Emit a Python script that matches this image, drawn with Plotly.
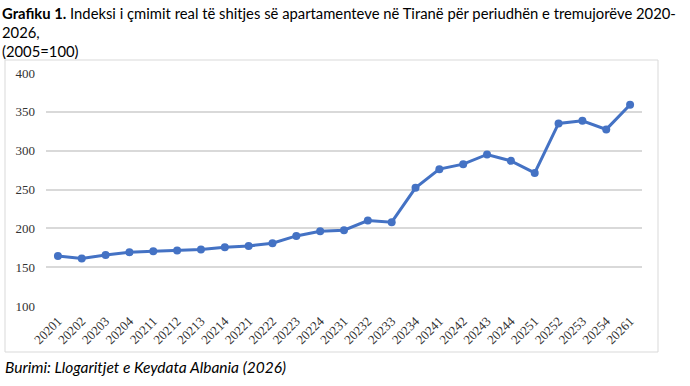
import plotly.graph_objects as go

periods = ["20201", "20202", "20203", "20204", "20211", "20212", "20213", "20214",
           "20221", "20222", "20223", "20224", "20231", "20232", "20233", "20234",
           "20241", "20242", "20243", "20244", "20251", "20252", "20253", "20254",
           "20261"]
index_values = [164.4, 161.1, 165.7, 169.2, 170.5, 171.4, 172.7, 175.7,
                177.3, 180.8, 190.2, 196.3, 197.6, 210.1, 207.9, 252.1,
                276.2, 282.6, 295.1, 286.9, 271.4, 335.1, 338.5, 327.4,
                359.1]
y_ticks = [100, 150, 200, 250, 300, 350, 400]

title_text = ("<b>Grafiku 1.</b> Indeksi i çmimit real të shitjes së apartamenteve në Tiranë për periudhën e tremujorëve 2020-"
              "<br>2026,<br>(2005=100)")
source_text = "<i>Burimi: Llogaritjet e Keydata Albania (2026)</i>"

W, H = 690, 386
fig = go.Figure()
fig.add_trace(go.Scatter(
    x=periods, y=index_values, mode="lines+markers",
    line=dict(color="#4472C4", width=3),
    marker=dict(color="#4472C4", size=8),
    showlegend=False, hoverinfo="x+y",
))

fig.update_layout(
    width=W, height=H,
    margin=dict(l=46, r=48, t=73, b=80),
    paper_bgcolor="white", plot_bgcolor="white",
    font=dict(family="Liberation Serif", color="#404040", size=12),
    xaxis=dict(type="category", tickangle=-45, showgrid=False, zeroline=False,
               showline=False, ticks="", tickfont=dict(size=13, family="Liberation Serif", color="#333333"),
               ticklabelstandoff=4,
               range=[-0.5, len(periods) - 0.5]),
    yaxis=dict(range=[100, 400], tickvals=y_ticks, showgrid=True, gridcolor="#d9d9d9",
               gridwidth=1.5, zeroline=False, showline=False, ticks="",
               tickfont=dict(size=13, family="Liberation Serif", color="#333333"),
               ticklabelstandoff=10),
    shapes=[dict(type="rect", xref="paper", yref="paper",
                 x0=(5 - 46) / (W - 94), x1=(658 - 46) / (W - 94),
                 y0=(H - 80 - 352) / (H - 153), y1=(H - 80 - 60) / (H - 153),
                 line=dict(color="#d9d9d9", width=1), fillcolor="rgba(0,0,0,0)", layer="below")],
    annotations=[
        dict(text=title_text, xref="paper", yref="paper", x=(0 - 46) / (W - 94), y=(H - 80 - 2) / (H - 153),
             xanchor="left", yanchor="top", align="left", showarrow=False,
             font=dict(family="Lato, sans-serif", size=14.8, color="#000000")),
        dict(text=source_text, xref="paper", yref="paper", x=(3 - 46) / (W - 94), y=(H - 80 - 356) / (H - 153),
             xanchor="left", yanchor="top", align="left", showarrow=False,
             font=dict(family="Lato, sans-serif", size=15.5, color="#000000")),
    ],
)
fig.write_html("out.html")
